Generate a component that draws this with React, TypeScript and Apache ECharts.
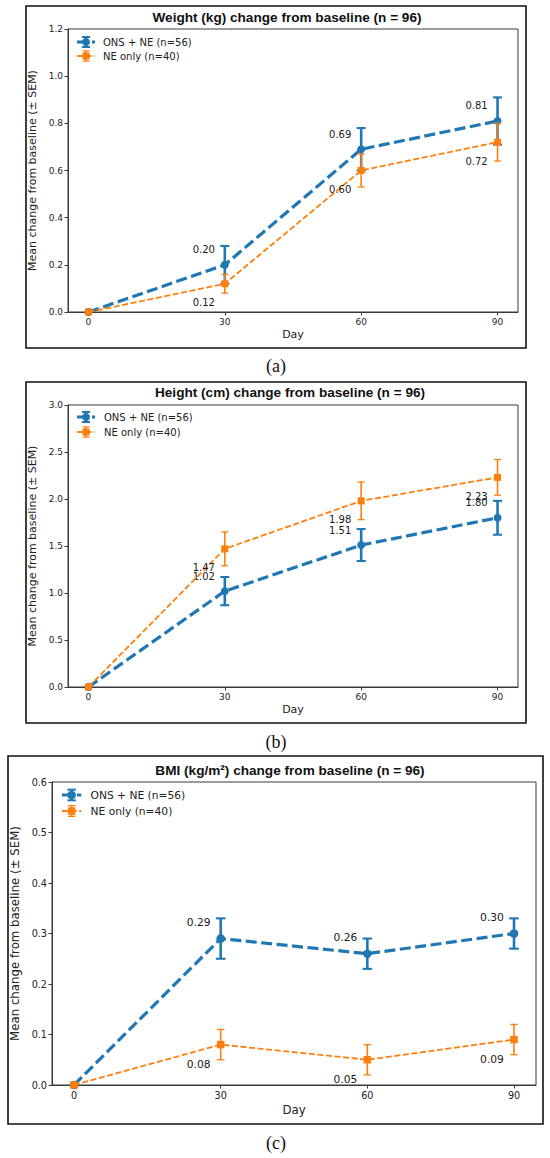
import React, { useEffect, useRef } from "react";
import * as echarts from "echarts";

// ---------- data ----------
const days = [0, 30, 60, 90];
const xTickValues = [0, 30, 60, 90];

const weightOns = [0, 0.2, 0.69, 0.81];
const weightOnsSem = [0, 0.08, 0.09, 0.1];
const weightNe = [0, 0.12, 0.6, 0.72];
const weightNeSem = [0, 0.04, 0.07, 0.08];

const heightOns = [0, 1.02, 1.51, 1.8];
const heightOnsSem = [0, 0.15, 0.17, 0.18];
const heightNe = [0, 1.47, 1.98, 2.23];
const heightNeSem = [0, 0.18, 0.2, 0.19];

const bmiOns = [0, 0.29, 0.26, 0.3];
const bmiOnsSem = [0, 0.04, 0.03, 0.03];
const bmiNe = [0, 0.08, 0.05, 0.09];
const bmiNeSem = [0, 0.03, 0.03, 0.03];

const seriesNames = ["ONS + NE (n=56)", "NE only (n=40)"];
const titles = [
  "Weight (kg) change from baseline (n = 96)",
  "Height (cm) change from baseline (n = 96)",
  "BMI (kg/m\u00b2) change from baseline (n = 96)",
];
const captions = ["(a)", "(b)", "(c)"];
const yAxisName = "Mean change from baseline (\u00b1 SEM)";
const xAxisName = "Day";

// ---------- styling / layout ----------
const BLUE = "#1f77b4";
const ORANGE = "#ff7f0e";
const FONT = '"DejaVu Sans", sans-serif';
const TITLE_FONT = '"Liberation Sans", Arial, sans-serif';
const SERIF = '"Liberation Serif", "DejaVu Serif", serif';
const AX = "#3a3a3a";

const panels = [
  {
    ons: weightOns, onsSem: weightOnsSem, ne: weightNe, neSem: weightNeSem,
    yMax: 1.2, yInt: 0.2,
    box: [26, 6, 500, 342], grid: { left: 68, top: 29, width: 450, height: 283 },
    titleX: 287, titleY: 17,
    legend: { x: 77, y: 42, dy: 14, tx: 103 },
    captionY: 366, s: 1,
    offB: [-21, -15], offO: [-21, 19],
    yGap: 24, xGap: 17,
  },
  {
    ons: heightOns, onsSem: heightOnsSem, ne: heightNe, neSem: heightNeSem,
    yMax: 3.0, yInt: 0.5,
    box: [26, 382, 500, 341], grid: { left: 68, top: 405, width: 450, height: 282 },
    titleX: 290, titleY: 392,
    legend: { x: 77, y: 417, dy: 15, tx: 104 },
    captionY: 742, s: 1,
    offB: [-21, -15], offO: [-21, 19],
    yGap: 24, xGap: 17,
  },
  {
    ons: bmiOns, onsSem: bmiOnsSem, ne: bmiNe, neSem: bmiNeSem,
    yMax: 0.6, yInt: 0.1,
    box: [8, 756, 535, 368], grid: { left: 52, top: 782, width: 484, height: 303 },
    titleX: 290, titleY: 770,
    legend: { x: 62, y: 795, dy: 16, tx: 90.5 },
    captionY: 1143, s: 1.07,
    offB: [-22, -16], offO: [-22, 20],
    yGap: 26, xGap: 19,
  },
];

function errRender(color: string, lw: number, capW: number) {
  return (params: any, api: any) => {
    const x = api.value(0);
    const y = api.value(1);
    const e = api.value(2);
    if (!e) return { type: "group", children: [] };
    const t = api.coord([x, y + e]);
    const b = api.coord([x, y - e]);
    const st = { stroke: color, lineWidth: lw };
    return {
      type: "group",
      children: [
        { type: "line", shape: { x1: t[0], y1: t[1], x2: b[0], y2: b[1] }, style: st },
        { type: "line", shape: { x1: t[0] - capW / 2, y1: t[1], x2: t[0] + capW / 2, y2: t[1] }, style: { stroke: color, lineWidth: lw * 0.8 } },
        { type: "line", shape: { x1: b[0] - capW / 2, y1: b[1], x2: b[0] + capW / 2, y2: b[1] }, style: { stroke: color, lineWidth: lw * 0.8 } },
      ],
    };
  };
}

function legendGraphic(p: any) {
  const L = p.legend;
  const s = p.s;
  const items: any[] = [];
  const mk = (row: number, color: string, lw: number, dash: number[], sym: string, size: number, capW: number, errLw: number) => {
    const y = L.y + row * L.dy;
    const x0 = L.x;
    const x1 = L.x + 18 * s;
    const cx = (x0 + x1) / 2;
    items.push({
      type: "line", z: 100,
      shape: { x1: x0, y1: y, x2: x1, y2: y },
      style: { stroke: color, lineWidth: lw, lineDash: dash },
    });
    items.push({ type: "line", z: 100, shape: { x1: cx, y1: y - 5 * s, x2: cx, y2: y + 5 * s }, style: { stroke: color, lineWidth: errLw } });
    items.push({ type: "line", z: 100, shape: { x1: cx - capW / 2, y1: y - 5 * s, x2: cx + capW / 2, y2: y - 5 * s }, style: { stroke: color, lineWidth: errLw * 0.8 } });
    items.push({ type: "line", z: 100, shape: { x1: cx - capW / 2, y1: y + 5 * s, x2: cx + capW / 2, y2: y + 5 * s }, style: { stroke: color, lineWidth: errLw * 0.8 } });
    if (sym === "circle") {
      items.push({ type: "circle", z: 101, shape: { cx, cy: y, r: size / 2 }, style: { fill: color } });
    } else {
      items.push({ type: "rect", z: 101, shape: { x: cx - size / 2, y: y - size / 2, width: size, height: size }, style: { fill: color } });
    }
    items.push({
      type: "text", z: 101, x: L.tx, y,
      style: { text: seriesNames[row], font: `${10 * s}px ${FONT}`, fill: "#222", verticalAlign: "middle", align: "left" },
    });
  };
  mk(0, BLUE, 3.2, [11, 4], "circle", 8 * s, 8 * s, 2.5);
  mk(1, ORANGE, 1.8, [6, 2.6], "rect", 7 * s, 7 * s, 1.6);
  return items;
}

function buildOption() {
  const grids: any[] = [];
  const xAxes: any[] = [];
  const yAxes: any[] = [];
  const series: any[] = [];
  const graphics: any[] = [];

  panels.forEach((p, i) => {
    const s = p.s;
    grids.push({
      ...p.grid,
      show: true,
      borderColor: AX,
      borderWidth: 1,
      backgroundColor: "transparent",
      containLabel: false,
    });
    xAxes.push({
      gridIndex: i,
      type: "value",
      min: -4.5,
      max: 94.5,
      name: xAxisName,
      nameLocation: "middle",
      nameGap: p.xGap,
      nameTextStyle: { fontFamily: FONT, fontSize: 11 * s, color: "#222" },
      axisLine: { show: true, onZero: false, lineStyle: { color: AX, width: 1 } },
      axisTick: { show: true, length: 3.5, lineStyle: { color: AX }, customValues: xTickValues },
      axisLabel: { fontFamily: FONT, fontSize: 9 * s, color: "#222", margin: 5, customValues: xTickValues },
      splitLine: { show: false },
    });
    yAxes.push({
      gridIndex: i,
      type: "value",
      min: 0,
      max: p.yMax,
      interval: p.yInt,
      name: yAxisName,
      nameLocation: "middle",
      nameGap: p.yGap,
      nameTextStyle: { fontFamily: FONT, fontSize: 11 * s, color: "#222" },
      axisLine: { show: true, onZero: false, lineStyle: { color: AX, width: 1 } },
      axisTick: { show: true, length: 3.5, lineStyle: { color: AX } },
      axisLabel: { fontFamily: FONT, fontSize: 9 * s, color: "#222", margin: 5, formatter: (v: number) => v.toFixed(1) },
      splitLine: { show: false },
    });

    const labelCfg = (off: number[]) => ({
      show: true,
      position: "inside",
      offset: off,
      fontFamily: FONT,
      fontSize: 10 * s,
      color: "#1a1a1a",
      formatter: (pr: any) => (pr.value[0] === 0 ? "" : Number(pr.value[1]).toFixed(2)),
    });

    series.push({
      type: "custom",
      xAxisIndex: i,
      yAxisIndex: i,
      z: 2,
      renderItem: errRender(BLUE, 2.6, 9 * s),
      data: days.map((d, k) => [d, p.ons[k], p.onsSem[k]]),
      encode: { x: 0, y: 1 },
      silent: true,
    });
    series.push({
      type: "line",
      name: seriesNames[0],
      xAxisIndex: i,
      yAxisIndex: i,
      z: 3,
      data: days.map((d, k) => [d, p.ons[k]]),
      symbol: "circle",
      symbolSize: 8 * s,
      showSymbol: true,
      itemStyle: { color: BLUE },
      lineStyle: { color: BLUE, width: 3.2, type: [11, 4.5] },
      label: labelCfg(p.offB),
    });
    series.push({
      type: "custom",
      xAxisIndex: i,
      yAxisIndex: i,
      z: 4,
      renderItem: errRender(ORANGE, 1.6, 7 * s),
      data: days.map((d, k) => [d, p.ne[k], p.neSem[k]]),
      encode: { x: 0, y: 1 },
      silent: true,
    });
    series.push({
      type: "line",
      name: seriesNames[1],
      xAxisIndex: i,
      yAxisIndex: i,
      z: 5,
      data: days.map((d, k) => [d, p.ne[k]]),
      symbol: "rect",
      symbolSize: 7 * s,
      showSymbol: true,
      itemStyle: { color: ORANGE },
      lineStyle: { color: ORANGE, width: 1.8, type: [6, 2.6] },
      label: labelCfg(p.offO),
    });

    const [bx, by, bw, bh] = p.box;
    graphics.push({
      type: "rect",
      z: 90,
      shape: { x: bx, y: by, width: bw, height: bh },
      style: { fill: "none", stroke: "#111", lineWidth: 1.6 },
      silent: true,
    });
    graphics.push({
      type: "text",
      z: 90,
      x: p.titleX,
      y: p.titleY,
      style: {
        text: titles[i],
        font: `bold 13.6px ${TITLE_FONT}`,
        fill: "#111",
        align: "center",
        verticalAlign: "middle",
      },
    });
    graphics.push({
      type: "text",
      z: 90,
      x: 276,
      y: p.captionY,
      style: {
        text: captions[i],
        font: `18px ${SERIF}`,
        fill: "#111",
        align: "center",
        verticalAlign: "middle",
      },
    });
    legendGraphic(p).forEach((g) => graphics.push(g));
  });

  return {
    animation: false,
    backgroundColor: "#ffffff",
    grid: grids,
    xAxis: xAxes,
    yAxis: yAxes,
    series,
    graphic: graphics,
  };
}

export default function App() {
  const ref = useRef<HTMLDivElement>(null);
  useEffect(() => {
    if (!ref.current) return;
    const chart = echarts.init(ref.current, undefined, { renderer: "svg" });
    chart.setOption(buildOption() as any);
    return () => chart.dispose();
  }, []);
  return (
    <div
      ref={ref}
      style={{ position: "absolute", left: 0, top: 0, width: 550, height: 1158, background: "#fff" }}
    />
  );
}
